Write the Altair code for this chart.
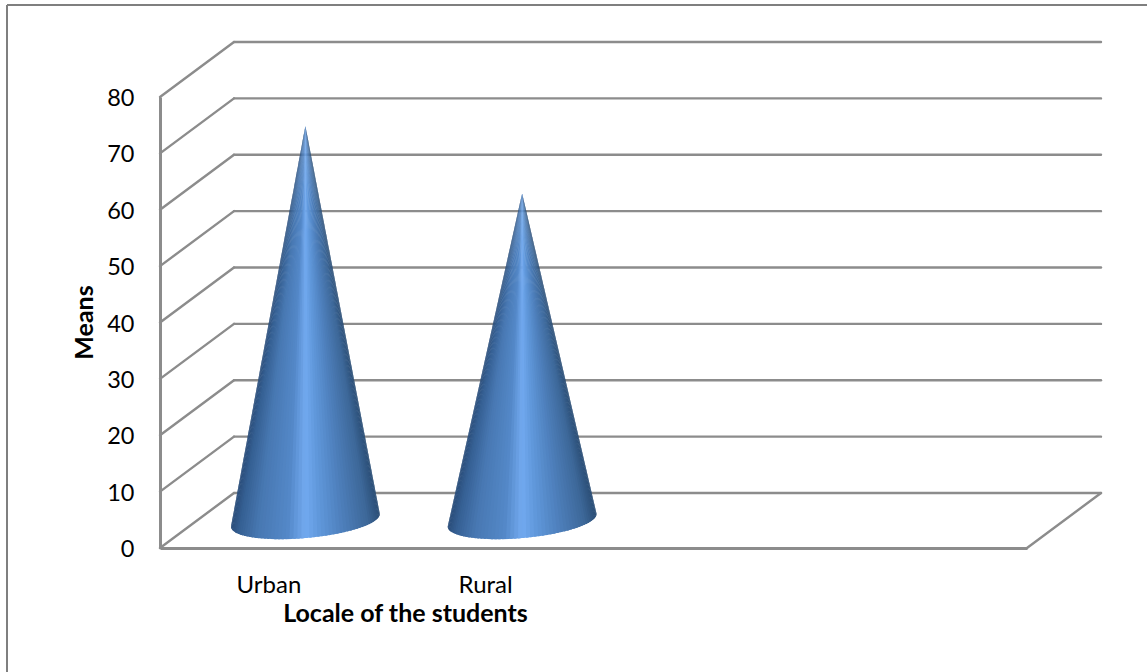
import math
import altair as alt
import pandas as pd

# Chart values
categories = ["Urban", "Rural"]
means = [70, 58]
y_ticks = [0, 10, 20, 30, 40, 50, 60, 70, 80]

# Layout of the 3D box
PLOT_W, PLOT_H = 867, 451
N_SLOTS = 4
Y_MAX = 80
DEPTH_X = 74 / (PLOT_W / N_SLOTS)   # box depth in slot units
DEPTH_Y = 55 / (PLOT_H / Y_MAX)     # box depth in value units
RADIUS = 70 / (PLOT_W / N_SLOTS)
BASE_DEPTH = 0.34
GRID = "#8c8c8c"
FONT = "Lato"

SHADE_STOPS = [
    (0.00, "#2a4d7a"), (0.05, "#355f92"), (0.18, "#4878b2"), (0.38, "#5488c8"),
    (0.50, "#72aaf0"), (0.60, "#5f97da"), (0.76, "#4d7eba"), (0.92, "#3d6899"),
    (1.00, "#2b4e76"),
]


def shade(f):
    for (a, ca), (b, cb) in zip(SHADE_STOPS, SHADE_STOPS[1:]):
        if f <= b:
            u = (f - a) / (b - a)
            rgb = [
                round(int(ca[i:i + 2], 16) * (1 - u) + int(cb[i:i + 2], 16) * u)
                for i in (1, 3, 5)
            ]
            return "#%02x%02x%02x" % tuple(rgb)
    return SHADE_STOPS[-1][1]


def project(slot, value, depth):
    """Front-projected position of a point at a fractional box depth."""
    return slot + depth * DEPTH_X, value + depth * DEPTH_Y


def cone_rows(name, slot, value, steps=60):
    ax, ay = project(slot, value, 0.5)

    def rim(t):
        return project(slot + RADIUS * math.cos(t), 0, 0.5 + BASE_DEPTH * math.sin(t))

    # Silhouette: the rim points seen at the widest angle from the apex
    ts = [i * 2 * math.pi / 720 for i in range(720)]
    px = PLOT_W / N_SLOTS
    py = PLOT_H / Y_MAX

    def angle(t):
        x, y = rim(t)
        return math.atan2((x - ax) * px, (ay - y) * py)

    t_left = min(ts, key=angle)
    t_right = max(ts, key=angle)
    # walk along the near (lower) side of the rim, left to right
    while t_right < t_left:
        t_right += 2 * math.pi
    xs_all = [rim(t)[0] for t in ts]
    lo, hi = min(xs_all), max(xs_all)
    step = (t_right - t_left) / steps
    rows = []
    for i in range(steps):
        t0 = t_left + step * i
        # each wedge runs slightly under the next one to hide seams
        t1 = t_left + step * min(steps, i + 1.6)
        p0, p1 = rim(t0), rim(t1)
        colour = shade(min(1, max(0, (rim(t0 + step / 2)[0] - lo) / (hi - lo))))
        (x0, y0), (x1, y1), (x2, y2) = sorted([(ax, ay), p0, p1])
        mid = y0 + (y2 - y0) * (x1 - x0) / (x2 - x0)
        key = f"{name}-{i:03d}"
        rows.append(dict(key=key, c=colour, x=x0, top=y0, bot=y0))
        rows.append(dict(key=key, c=colour, x=x1, top=max(y1, mid), bot=min(y1, mid)))
        rows.append(dict(key=key, c=colour, x=x2, top=y2, bot=y2))
    return rows


x_scale = alt.Scale(domain=[0, N_SLOTS], nice=False, zero=False)
y_scale = alt.Scale(domain=[0, Y_MAX], nice=False, zero=False)

# Box frame: back wall, side wall and floor edges
segments = []
for v in y_ticks:
    bx0, by0 = project(0, v, 1)
    bx1, by1 = project(N_SLOTS, v, 1)
    segments.append(dict(x=bx0, x2=bx1, y=by0, y2=by1))
    fx, fy = project(0, v, 0)
    segments.append(dict(x=fx, x2=bx0, y=fy, y2=by0))
fx, fy = project(N_SLOTS, 0, 0)
bx, by = project(N_SLOTS, 0, 1)
segments.append(dict(x=fx, x2=bx, y=fy, y2=by))

frame = alt.Chart(pd.DataFrame(segments)).mark_rule(
    color=GRID, strokeWidth=2.4, strokeCap="round"
).encode(
    x=alt.X(
        "x:Q",
        scale=x_scale,
        axis=alt.Axis(
            values=[0.5, 1.5],
            labelExpr="datum.value < 1 ? '%s' : '%s'" % tuple(categories),
            title="Locale of the students",
            titleFont=FONT, titleFontSize=25, titleFontWeight="bold", titleColor="#000000",
            titleX=245, titleY=65, titleBaseline="middle",
            labelFont=FONT, labelFontSize=24, labelFontWeight=400, labelColor="#000000", labelPadding=25,
            ticks=False, grid=False, domainColor=GRID, domainWidth=3,
        ),
    ),
    x2="x2:Q",
    y=alt.Y(
        "y:Q",
        scale=y_scale,
        axis=alt.Axis(
            values=y_ticks,
            title="Means",
            titleFont=FONT, titleFontSize=25, titleFontWeight="bold", titleColor="#000000",
            titleX=-76, titleY=225, titleAlign="center", titleBaseline="middle",
            labelFont=FONT, labelFontSize=23.5, labelFontWeight=400, labelColor="#000000", labelPadding=26,
            labelOffset=1.5, ticks=False, grid=False, domainColor=GRID, domainWidth=3,
        ),
    ),
    y2="y2:Q",
)

# Cones, built from angular wedges so the shading converges at the apex
rows = []
for i, (name, value) in enumerate(zip(categories, means)):
    rows += cone_rows(name, i + 0.5, value)

cones = alt.Chart(pd.DataFrame(rows)).mark_area(opacity=1).encode(
    x=alt.X("x:Q", scale=x_scale),
    y=alt.Y("top:Q", scale=y_scale, stack=None),
    y2="bot:Q",
    detail="key:N",
    fill=alt.Fill("c:N", scale=None),
)

# Outer chart border along the top and left edges
border_v = alt.Chart(pd.DataFrame({"a": [0]})).mark_rule(color="#7f7f7f", strokeWidth=2).encode(
    x=alt.value(-153), y=alt.value(-92), y2=alt.value(PLOT_H + 124)
)
border_h = alt.Chart(pd.DataFrame({"a": [0]})).mark_rule(color="#7f7f7f", strokeWidth=2).encode(
    y=alt.value(-92), x=alt.value(-153), x2=alt.value(PLOT_W + 120)
)

chart = (
    alt.layer(frame, cones, border_v, border_h)
    .resolve_scale(x="shared", y="shared")
    .properties(
        width=PLOT_W,
        height=PLOT_H,
        padding={"left": 160, "top": 97, "right": 120, "bottom": 124},
        autosize=alt.AutoSizeParams(type="none"),
        background="#ffffff",
    )
    .configure_view(stroke=None)
)

chart.save("out.html", embed_options={"renderer": "svg", "actions": False})
